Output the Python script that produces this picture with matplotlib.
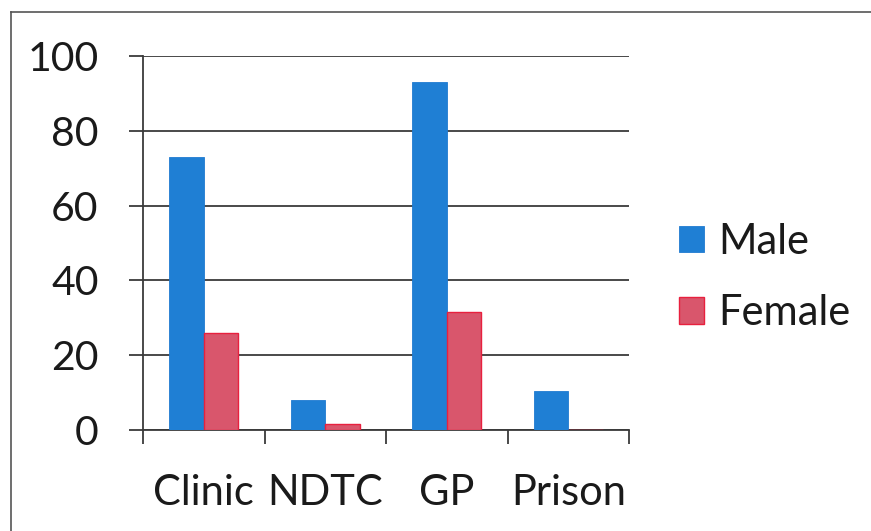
import matplotlib
matplotlib.use("Agg")
import matplotlib.pyplot as plt
import numpy as np
from matplotlib.lines import Line2D

categories = ["Clinic", "NDTC", "GP", "Prison"]
male = [73, 8, 93, 10.5]
female = [26, 1.7, 31.5, 0]
yticks = [0, 20, 40, 60, 80, 100]

W, H = 871, 531
fig = plt.figure(figsize=(W / 100, H / 100), dpi=100)
fig.patch.set_facecolor("white")
plt.rcParams['font.family'] = ['Lato', 'DejaVu Sans']

ax = fig.add_axes([143 / W, 1 - 430 / H, (629 - 143) / W, (430 - 56) / H])
x = np.arange(len(categories))
bw = 0.285
blue = "#1f7fd4"
red = "#d9566c"
ax.bar(x - bw / 2, male, bw, color=blue, edgecolor="#1f7ad0", linewidth=0.6, label="Male", zorder=3)
ax.bar(x + bw / 2, female, bw, color=red, edgecolor="#e8203e", linewidth=1.0, label="Female", zorder=3)

ax.set_xlim(-0.5, len(categories) - 0.5)
ax.set_ylim(0, 100)
ax.set_yticks(yticks)
ax.set_yticklabels([str(v) for v in yticks], fontsize=29.5, color="#1a1a1a")
ax.yaxis.grid(True, color="#3a3a3a", linewidth=1.3, zorder=0)
ax.set_axisbelow(True)

# category boundary ticks
ax.set_xticks(np.arange(-0.5, len(categories), 1.0))
ax.set_xticklabels([])
ax.set_xticks(x, minor=True)
ax.set_xticklabels(categories, minor=True, fontsize=30, color="#1a1a1a")
ax.tick_params(axis="x", which="minor", length=0, pad=32)
ax.tick_params(axis="x", which="major", length=10, width=1.3, color="#3a3a3a", direction="out")
ax.tick_params(axis="y", length=10, width=1.3, color="#3a3a3a", direction="out", pad=22)

for s in ["top", "right"]:
    ax.spines[s].set_visible(False)
for s in ["left", "bottom"]:
    ax.spines[s].set_color("#3a3a3a")
    ax.spines[s].set_linewidth(1.3)

leg = ax.legend(loc="center left", bbox_to_anchor=(679 / W, 1 - 277.5 / H),
                bbox_transform=fig.transFigure, frameon=False, fontsize=30,
                handlelength=0.6, handleheight=0.6, handletextpad=0.35,
                labelspacing=0.8, borderpad=0, borderaxespad=0)
for t in leg.get_texts():
    t.set_color("#1a1a1a")

# scanned page border
fig.add_artist(Line2D([11 / W, 11 / W], [0, 1 - 12 / H], transform=fig.transFigure,
                      color="#555555", linewidth=1.2))
fig.add_artist(Line2D([11 / W, 1], [1 - 12 / H, 1 - 12 / H], transform=fig.transFigure,
                      color="#555555", linewidth=1.2))

fig.savefig("out.png", dpi=100, facecolor="white")
